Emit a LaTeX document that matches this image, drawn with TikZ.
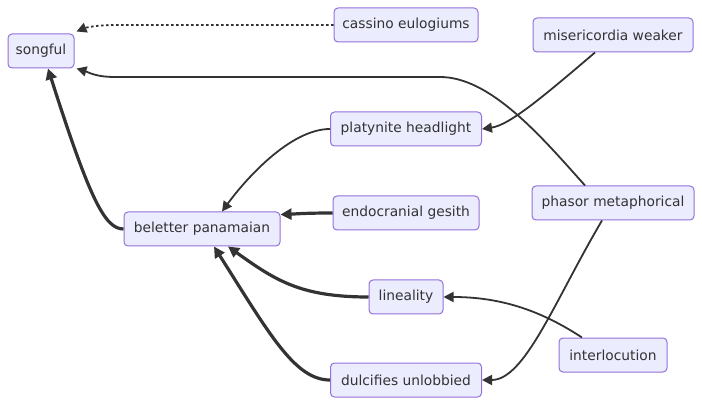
\documentclass[tikz,border=0pt]{standalone}
\usepackage{fontspec}
\setmainfont{DejaVu Sans}
\usetikzlibrary{arrows.meta}
\definecolor{nodefill}{HTML}{ECECFF}
\definecolor{nodeline}{HTML}{9370DB}
\definecolor{edgecol}{HTML}{333333}
\begin{document}
\begin{tikzpicture}[x=1pt,y=-1pt,
  box/.style={draw=nodeline,fill=nodefill,rounded corners=4pt,line width=1pt,
    minimum height=34pt,inner sep=0pt,text=edgecol,font=\fontsize{13.8}{16}\selectfont},
  thin/.style={draw=edgecol,line width=1.8pt,-{Triangle[length=10pt,width=10pt]}},
  thick/.style={draw=edgecol,line width=3.2pt,-{Triangle[length=11pt,width=11pt]}},
  dots/.style={draw=edgecol,line width=1.8pt,dash pattern=on 2.5pt off 2.5pt,-{Triangle[length=10pt,width=10pt]}}]
\useasboundingbox (0,0) rectangle (702,406);
\node[box,minimum width=66pt] (sf) at (41,51) {songful};
\node[box,minimum width=144pt] (ce) at (406,25) {cassino eulogiums};
\node[box,minimum width=160pt] (mw) at (613,35) {misericordia weaker};
\node[box,minimum width=151pt] (pl) at (406,129) {platynite headlight};
\node[box,minimum width=162pt] (ph) at (613,203) {phasor metaphorical};
\node[box,minimum width=156pt] (bp) at (202,229) {beletter panamaian};
\node[box,minimum width=146pt] (eg) at (406,213) {endocranial gesith};
\node[box,minimum width=74pt] (li) at (406,297) {lineality};
\node[box,minimum width=108pt] (il) at (613,355) {interlocution};
\node[box,minimum width=151pt] (db) at (406,380) {dulcifies unlobbied};

\draw[dots] (ce.west) -- (115,25) .. controls (95,25) and (85,28) .. ([xshift=2pt,yshift=2pt]sf.north east);
\draw[thin] ([xshift=-28pt]ph.north) .. controls (540,135) and (490,77) .. (440,77) -- (115,77) .. controls (95,77) and (88,72) .. ([xshift=2pt]sf.south east);
\draw[thin] ([xshift=-18pt]mw.south) .. controls (545,95) and (510,125) .. (pl.east);
\draw[thin] (pl.west) .. controls (290,129) and (245,180) .. ([xshift=20pt]bp.north);
\draw[thick] (eg.west) .. controls (305,213) and (295,214) .. ([yshift=-3pt]bp.north east);
\draw[thick] (li.west) .. controls (300,297) and (275,280) .. ([xshift=26pt]bp.south);
\draw[thick] (db.west) .. controls (295,380) and (270,335) .. ([xshift=12pt]bp.south);
\draw[thick] (bp.west) .. controls (105,229) and (90,200) .. ([xshift=7pt]sf.south);
\draw[thin] ([xshift=-31pt]il.north) .. controls (540,310) and (500,297) .. (li.east);
\draw[thin] ([xshift=-11pt]ph.south) .. controls (555,300) and (525,380) .. (db.east);
\end{tikzpicture}
\end{document}
